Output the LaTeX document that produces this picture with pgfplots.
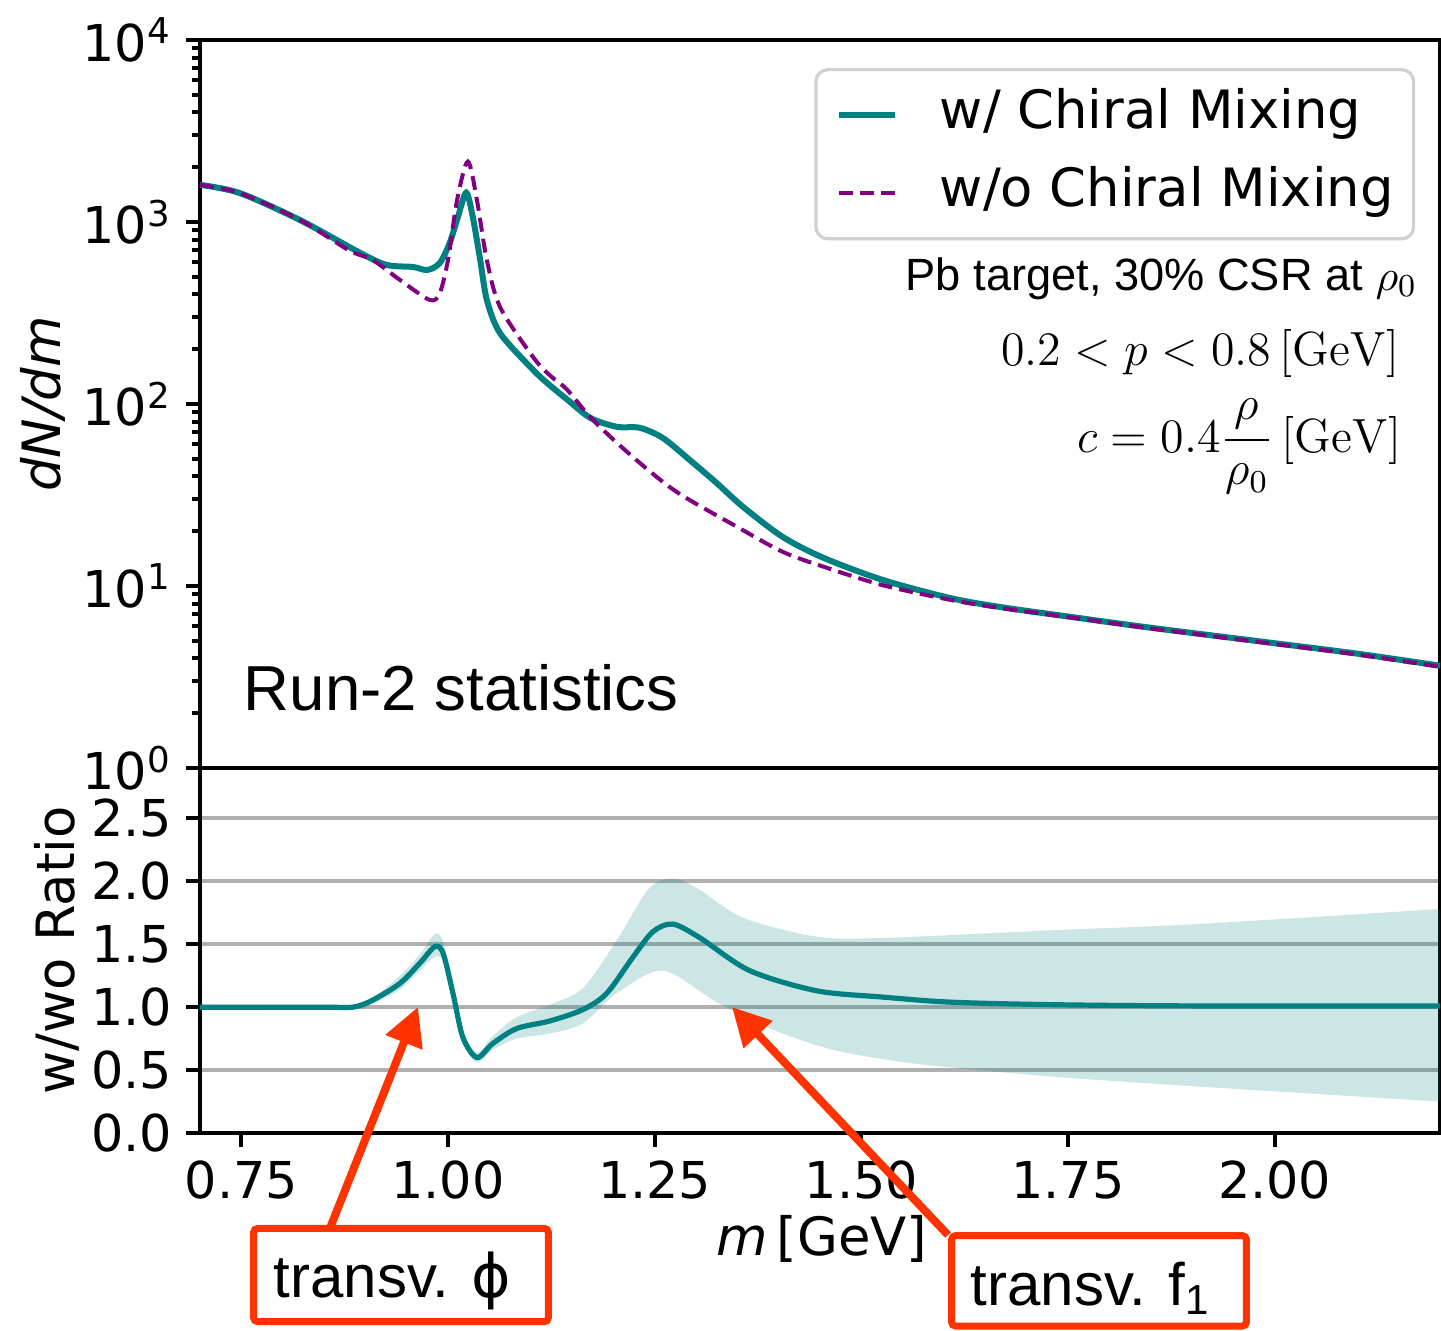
\documentclass[border=0pt]{standalone}
\usepackage[no-math]{fontspec}
\setmainfont{DejaVu Sans}
\newfontfamily\arialfont{Liberation Sans}
\usepackage{pgfplots}
\usepackage{pgfplotstable}
\pgfplotsset{compat=1.18}
\usepgfplotslibrary{fillbetween}
\usetikzlibrary{arrows.meta}
\definecolor{mplteal}{HTML}{008080}
\definecolor{mplpurple}{HTML}{800080}
\definecolor{annred}{HTML}{FF3300}
\definecolor{gridgray}{HTML}{B0B0B0}
\definecolor{legframe}{HTML}{D0D0D0}
\newcommand\tickfont{\fontsize{12.7}{15}\selectfont}
\newcommand\labfont{\fontsize{13.2}{15}\selectfont}

\pgfplotstableread{
m v
0.700 1600
0.748 1443
0.821 1025
0.894 676
0.926 581
0.958 566
0.975 545
0.990 595
1.002 767
1.012 1065
1.022 1450
1.030 1065
1.039 618
1.047 373
1.063 245
1.103 154
1.123 127
1.144 106
1.172 84
1.204 75
1.232 74
1.260 65
1.293 49
1.325 36.8
1.357 27.2
1.405 18.6
1.454 14.3
1.526 10.8
1.607 8.6
1.668 7.67
1.750 6.8
1.850 5.9
2.000 4.85
2.100 4.25
2.200 3.65
}\withmix

\pgfplotstableread{
m v
0.700 1600
0.748 1443
0.821 1025
0.880 700
0.909 618
0.942 480
0.978 373
0.990 407
1.000 618
1.011 1321
1.024 2150
1.035 1321
1.047 618
1.063 341
1.103 181
1.123 144
1.144 120
1.175 82
1.224 51
1.277 32.8
1.350 21.1
1.405 15.4
1.458 12.6
1.526 10.1
1.607 8.4
1.668 7.57
1.750 6.75
1.850 5.85
2.000 4.8
2.100 4.2
2.200 3.6
}\withoutmix

\pgfplotstableread{
m r
0.700 1.00
0.850 1.00
0.885 1.00
0.909 1.056
0.942 1.19
0.966 1.35
0.984 1.48
0.994 1.43
1.006 1.11
1.018 0.76
1.035 0.60
1.054 0.71
1.083 0.83
1.123 0.89
1.163 0.98
1.192 1.11
1.224 1.40
1.248 1.60
1.272 1.66
1.305 1.55
1.365 1.29
1.446 1.13
1.526 1.08
1.607 1.04
1.728 1.02
1.900 1.01
2.200 1.01
}\ratio

\pgfplotstableread{
m r
0.700 1.02
0.880 1.02
0.909 1.08
0.942 1.25
0.966 1.42
0.984 1.58
0.994 1.52
1.006 1.15
1.018 0.80
1.035 0.64
1.054 0.77
1.083 0.92
1.123 1.02
1.163 1.15
1.204 1.53
1.244 1.95
1.274 2.02
1.305 1.93
1.357 1.71
1.446 1.56
1.526 1.55
1.728 1.61
1.906 1.66
2.200 1.78
}\bandup

\pgfplotstableread{
m r
0.700 0.98
0.880 0.98
0.909 1.03
0.942 1.14
0.966 1.29
0.984 1.40
0.994 1.36
1.006 1.07
1.018 0.72
1.035 0.56
1.054 0.66
1.083 0.75
1.123 0.79
1.163 0.87
1.204 1.11
1.260 1.29
1.325 1.04
1.386 0.84
1.466 0.66
1.567 0.55
1.728 0.45
1.906 0.37
2.200 0.25
}\bandlo

\begin{document}
\begin{tikzpicture}
\pgfplotsset{
  every axis/.append style={
    scale only axis, width=310pt,
    xmin=0.7, xmax=2.2,
    tick align=outside,
    major tick length=3.5pt, minor tick length=2pt,
    every tick/.style={black, line width=1pt},
    axis line style={line width=1.1pt},
    ticklabel style={font=\tickfont},
    /pgf/number format/assume math mode=true,
  },
}
\begin{axis}[
  name=top, at={(0,0)}, anchor=south west,
  height=182pt,
  ymode=log, ymin=1, ymax=1e4,
  xtick=\empty,
  ytick={1,10,100,1000,10000},
  yticklabels={10\textsuperscript{0},10\textsuperscript{1},10\textsuperscript{2},10\textsuperscript{3},10\textsuperscript{4}},
  minor ytick={2,3,4,5,6,7,8,9,20,30,40,50,60,70,80,90,200,300,400,500,600,700,800,900,2000,3000,4000,5000,6000,7000,8000,9000},
  ytick pos=left,
  ylabel={\itshape dN/dm},
  every axis y label/.style={at={(rel axis cs:-0.1266,0.5)}, rotate=90, anchor=center, font=\labfont},
  legend cell align=left,
  legend image code/.code={\draw[#1] (0pt,0pt) -- (14pt,0pt); \path (24.5pt,0pt);},
  legend style={
    at={(rel axis cs:0.98,0.9615)}, anchor=north east,
    draw=legframe, line width=0.8pt, rounded corners=3pt, fill=white,
    inner xsep=5pt, inner ysep=5pt,
    font=\fontsize{13.2}{15}\selectfont,
    nodes={inner sep=0pt, text depth=3.2pt, text height=9.7pt},
    row sep=6.5pt,
  },
]
\addplot[mplteal, line width=1.5pt, smooth, tension=0.5] table[x=m, y=v] {\withmix};
\addlegendentry{w/ Chiral Mixing}
\addplot[mplpurple, line width=1pt, dash pattern=on 3.5pt off 1.8pt, smooth, tension=0.5] table[x=m, y=v] {\withoutmix};
\addlegendentry{w/o Chiral Mixing}
\end{axis}

\begin{axis}[
  name=bot, at={(0,0)}, anchor=north west,
  height=91.25pt,
  ymin=0, ymax=2.9,
  xtick={0.75,1,1.25,1.5,1.75,2},
  xticklabels={0.75,1.00,1.25,1.50,1.75,2.00},
  ytick={0,0.5,1,1.5,2,2.5},
  yticklabels={0.0,0.5,1.0,1.5,2.0,2.5},
  xtick pos=bottom, ytick pos=left,
  ymajorgrids, major grid style={gridgray, line width=1pt},
  ylabel={w/wo Ratio},
  every axis y label/.style={at={(rel axis cs:-0.1153,0.5)}, rotate=90, anchor=center, font=\labfont},
  xlabel={{\itshape m}\,[GeV]},
  every axis x label/.style={at={(rel axis cs:0.5016,0)}, anchor=base, yshift=-30.5pt, font=\labfont},
]
\addplot[name path=up, draw=none, smooth, tension=0.5] table[x=m, y=r] {\bandup};
\addplot[name path=lo, draw=none, smooth, tension=0.5] table[x=m, y=r] {\bandlo};
\addplot[fill=mplteal, fill opacity=0.2, draw=none] fill between[of=up and lo];
\addplot[mplteal, line width=1.3pt, smooth, tension=0.5] table[x=m, y=r] {\ratio};
\end{axis}

% text annotations in the upper panel
\node[anchor=base east, inner sep=0pt, font=\arialfont\fontsize{11.3}{13}\selectfont] at (304.5pt,119.5pt) {Pb target, 30\% CSR at $\rho_0$};
\node[anchor=base east, inner sep=0pt, font=\fontsize{12}{14}\selectfont] at (300pt,100.75pt) {$0.2<p<0.8\,[\mathrm{GeV}]$};
\node[anchor=base east, inner sep=0pt, font=\fontsize{12}{14}\selectfont] at (300.5pt,79pt) {$\displaystyle c=0.4\frac{\rho}{\rho_0}\,[\mathrm{GeV}]$};
\node[anchor=base west, inner sep=0pt, font=\arialfont\fontsize{15.9}{18}\selectfont] at (10.75pt,14.5pt) {Run-2 statistics};

% red annotation arrows and boxes
\draw[annred, line width=2pt, -{Triangle[length=9.5pt, width=9.5pt]}] (32.5pt,-115pt) -- (54.5pt,-59.75pt);
\draw[annred, line width=2pt, -{Triangle[length=9.5pt, width=9.5pt]}] (187pt,-116.75pt) -- (133pt,-59.75pt);
\draw[annred, line width=1.75pt, rounded corners=1pt, fill=white] (13.4pt,-115.1pt) rectangle (87.1pt,-138.4pt);
\node[anchor=base west, inner sep=0pt, font=\arialfont\fontsize{15}{17}\selectfont] at (18.25pt,-132.25pt) {transv. {\normalfont ϕ}};
\draw[annred, line width=1.75pt, rounded corners=1pt, fill=white] (187.9pt,-116.9pt) rectangle (261.6pt,-139.5pt);
\node[anchor=base west, inner sep=0pt, font=\arialfont\fontsize{15}{17}\selectfont] at (192.5pt,-134.25pt) {transv. f\textsubscript{1}};

\pgfresetboundingbox
\useasboundingbox (-50pt,-140.5pt) rectangle (310.25pt,192pt);
\end{tikzpicture}
\end{document}
